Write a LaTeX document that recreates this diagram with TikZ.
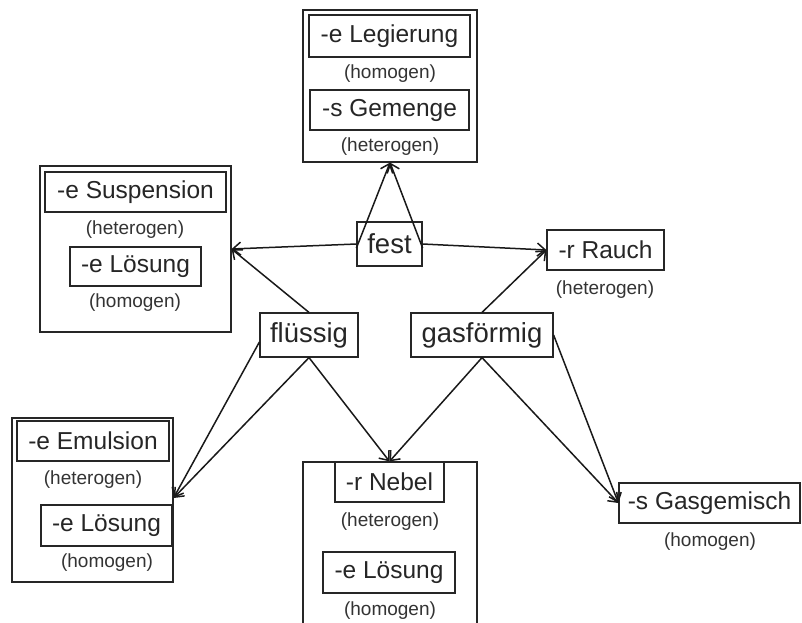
\documentclass[tikz,border=0pt]{standalone}
\usepackage{fontspec}
\setmainfont{Liberation Sans}
\usetikzlibrary{arrows.meta,shadows}
\begin{document}
\begin{tikzpicture}[x=1pt,y=-1pt,
  group/.style={draw=black!85, line width=1.1pt, fill=white, inner sep=0pt,
    drop shadow={shadow xshift=1.2pt,shadow yshift=-1.2pt,fill=black!20,opacity=0.5}},
  term/.style={draw=black!85, line width=1.2pt, fill=white, inner sep=0pt,
    minimum height=40pt, font=\fontsize{24.5}{28}\selectfont, text=black!85},
  state/.style={term, minimum height=44pt, font=\fontsize{27.5}{32}\selectfont},
  kind/.style={inner sep=0pt, font=\fontsize{19}{22}\selectfont, text=black!80},
  link/.style={draw=black!90, line width=1.5pt, -{Straight Barb[length=8pt,width=13pt]}}
]
\useasboundingbox (0,0) rectangle (802,622);
\clip (0,0) rectangle (802,622);

% group frames
\node[group, minimum width=174pt, minimum height=152pt] (fixed) at (390,86) {};
\node[group, minimum width=191pt, minimum height=166pt] (liquid) at (135.5,249) {};
\node[group, minimum width=161pt, minimum height=164pt] (liqliq) at (92.5,500) {};
\node[group, minimum width=174pt, minimum height=180pt] (gasliq) at (390,552) {};

% solid mixtures
\node[term, minimum width=161pt, minimum height=42pt] (legierung) at (389.5,36) {-e Legierung};
\node[kind] (k1) at (390,74) {(homogen)};
\node[term, minimum width=159pt] (gemenge) at (389.5,110) {-s Gemenge};
\node[kind] (k2) at (390,147) {(heterogen)};

% solid in liquid
\node[term, minimum width=181pt] (suspension) at (135.5,192) {-e Suspension};
\node[kind] (k3) at (135,230) {(heterogen)};
\node[term, minimum width=131pt, minimum height=39pt] (loesungA) at (135.5,266.5) {-e Lösung};
\node[kind] (k4) at (135,303) {(homogen)};

% liquid in liquid
\node[term, minimum width=152pt] (emulsion) at (93,441) {-e Emulsion};
\node[kind] (k5) at (93,480) {(heterogen)};
\node[term, minimum width=131pt, minimum height=41pt] (loesungB) at (106.5,525.5) {-e Lösung};
\node[kind] (k6) at (107,563) {(homogen)};

% liquid in gas
\node[term, minimum width=109pt] (nebel) at (389.5,482) {-r Nebel};
\node[kind] (k7) at (390,522) {(heterogen)};
\node[term, minimum width=132pt, minimum height=41pt] (loesungC) at (389,572.5) {-e Lösung};
\node[kind] (k8) at (390,611) {(homogen)};

% gas mixtures
\node[term, minimum width=117pt] (rauch) at (605.5,250) {-r Rauch};
\node[kind] (k9) at (605,290) {(heterogen)};
\node[term, minimum width=181pt] (gasgemisch) at (709.5,503) {-s Gasgemisch};
\node[kind] (k10) at (710,542) {(homogen)};

% states of matter
\node[state, minimum width=65pt] (fest) at (389.5,244) {fest};
\node[state, minimum width=98pt] (fluessig) at (309,335) {flüssig};
\node[state, minimum width=142pt] (gasfoermig) at (482,335) {gasförmig};

% connectors
\draw[link] ([yshift=-4pt]fest.west) -- (fixed.south);
\draw[link] ([yshift=-4pt]fest.east) -- (fixed.south);
\draw[link] (fest.west) -- (liquid.east);
\draw[link] (fluessig.north) -- (liquid.east);
\draw[link] (fest.east) -- (rauch.west);
\draw[link] (gasfoermig.north) -- (rauch.west);
\draw[link] ([yshift=-7pt]fluessig.west) -- ([yshift=2pt]liqliq.east);
\draw[link] (fluessig.south) -- ([yshift=2pt]liqliq.east);
\draw[link] (fluessig.south) -- (nebel.north);
\draw[link] (gasfoermig.south) -- (nebel.north);
\draw[link] (gasfoermig.south) -- (gasgemisch.west);
\draw[link] (gasfoermig.east) -- (gasgemisch.west);
\end{tikzpicture}
\end{document}
